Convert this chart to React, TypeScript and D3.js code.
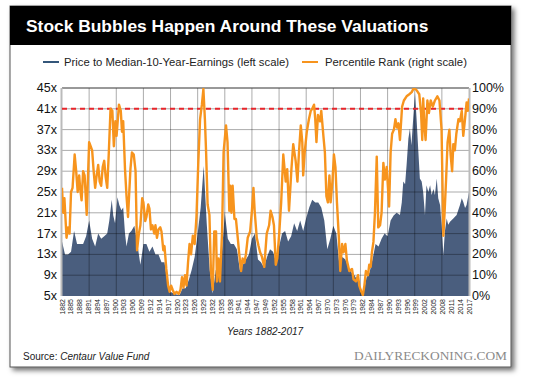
import React from 'react';
import * as d3 from 'd3';

// Price to Median-10-Year-Earnings (left scale): [year, multiple]
const pmePoints: [number, number][] = [
  [1882, 15.5], [1883, 13], [1884, 13], [1885, 13.5], [1886, 17.5], [1887, 15], [1888, 15], [1889, 15],
  [1890, 16.5], [1891, 19.5], [1892, 16], [1893, 14.5], [1894, 17], [1895, 16], [1896, 16.5], [1897, 17],
  [1897.7, 19.5], [1898.5, 23.5], [1899, 20.5], [1899.6, 19], [1900.4, 24], [1901, 22.5], [1901.7, 21.5],
  [1902.3, 22], [1902.9, 17], [1903.4, 14.5], [1904.2, 17], [1905, 17.5], [1906, 18.5], [1907, 15],
  [1908, 11], [1909, 15], [1910, 15], [1911, 13.5], [1912, 14.5], [1913, 13], [1914, 13], [1915, 11.5],
  [1916, 11.5], [1917, 7.5], [1918, 5.8], [1919, 5.5], [1920, 5.3], [1921, 5.2], [1922, 6.5], [1923, 6.5],
  [1924, 8], [1925, 10], [1926, 12.5], [1927, 17], [1928, 22], [1929, 30], [1930, 19], [1931, 10],
  [1932, 5.5], [1933, 10], [1934, 9], [1935, 13], [1936, 21], [1937, 16], [1938, 15], [1939, 15],
  [1940, 14], [1941, 10], [1942, 11], [1943, 12], [1944, 13], [1945, 16], [1946, 17], [1947, 12],
  [1948, 11.5], [1949, 10.5], [1950, 12.5], [1951, 14], [1952, 13.5], [1953, 11.5], [1954, 14.5],
  [1955, 17], [1956, 17.5], [1957, 15.5], [1958, 16.5], [1959, 19], [1960, 17.5], [1961, 19.5],
  [1962, 17.5], [1963, 20], [1964, 22], [1965, 23.5], [1966, 23], [1967, 23], [1968, 22], [1969, 19.5],
  [1970, 14], [1971, 16], [1972, 18.5], [1973, 17], [1974, 11], [1975, 12.5], [1976, 12], [1977, 10.5],
  [1978, 9.5], [1979, 9], [1980, 8], [1981, 6.5], [1982, 5.5], [1983, 8.5], [1984, 9.5], [1985, 12],
  [1986, 15], [1987, 14.5], [1988, 16], [1989, 17], [1990, 16.5], [1991, 19.5], [1992, 20.5], [1993, 21],
  [1994.1, 20.6], [1994.7, 23], [1995.2, 27], [1995.8, 26.5], [1996.3, 30.2], [1996.9, 35.3],
  [1997.4, 37.2], [1997.9, 34], [1998.5, 39.2], [1999.1, 44], [1999.6, 39.2], [2000.2, 32.8],
  [2000.7, 27.6], [2001.3, 27], [2001.8, 25], [2002.4, 20.6], [2002.9, 26.3], [2003.5, 25],
  [2004.1, 26.3], [2004.6, 24.4], [2005.2, 25.6], [2005.7, 24.4], [2006.3, 27.6], [2006.8, 23.8],
  [2007.4, 22.5], [2007.9, 18.7], [2008.5, 12.9], [2009.0, 17.4], [2009.6, 19.9], [2010.1, 18.7],
  [2010.7, 19.3], [2011.8, 19.9], [2012.9, 20.6], [2014.0, 22.5], [2014.6, 23.8], [2015.1, 23.1],
  [2015.7, 21.9], [2016.2, 22.5], [2017.0, 25],
];

// Percentile Rank (right scale): [year, percent]
const pctPoints: [number, number][] = [
  [1882, 52], [1882.4, 40], [1882.8, 47], [1883.5, 28], [1884, 33], [1884.5, 30], [1885, 50], [1885.5, 52],
  [1886.2, 68], [1886.7, 60], [1887.2, 50], [1887.7, 58], [1888, 52], [1888.5, 46], [1889, 60], [1889.5, 58],
  [1890.2, 39], [1891, 74], [1891.5, 72], [1892, 70], [1892.5, 60], [1893, 52], [1893.5, 58], [1894, 63],
  [1894.5, 55], [1895, 53], [1895.5, 62], [1896, 65], [1896.5, 57], [1897, 52], [1897.5, 68], [1898.1, 90],
  [1898.7, 89], [1899.2, 72], [1899.7, 84], [1900.1, 77], [1900.9, 92], [1901.5, 89], [1901.9, 79],
  [1902.3, 84], [1902.9, 61], [1903.4, 48], [1903.9, 38], [1904.7, 61], [1905.2, 69], [1905.8, 68],
  [1906.4, 60], [1906.9, 22], [1907.5, 30], [1908, 34], [1908.6, 47], [1909, 45], [1909.6, 36], [1910, 38],
  [1910.6, 44], [1911, 42], [1911.5, 32], [1912, 34], [1912.6, 30], [1913, 34], [1913.5, 28], [1914, 32],
  [1914.6, 33], [1915, 31], [1915.6, 22], [1916, 24], [1916.6, 13], [1917.2, 5], [1917.7, 2], [1918.2, 5],
  [1918.7, 3], [1919.3, 1], [1920, 2], [1920.7, 1], [1921.3, 3], [1921.8, 9], [1922.3, 4], [1922.8, 10],
  [1923.3, 5], [1923.8, 16], [1924.3, 25], [1924.8, 20], [1925.4, 29], [1926, 25], [1926.6, 38],
  [1927.2, 64], [1927.8, 85], [1928.4, 92], [1928.9, 99.5], [1929.4, 85], [1929.8, 69], [1930.3, 44],
  [1930.9, 39], [1931.4, 12], [1932.0, 3], [1932.5, 31], [1933.1, 31], [1933.4, 7], [1933.9, 18],
  [1934.4, 7], [1935.1, 31], [1935.6, 69], [1936.4, 82], [1936.9, 74], [1937.5, 41], [1937.8, 53],
  [1938.2, 40], [1938.6, 53], [1939.2, 37], [1939.7, 37], [1940.3, 28], [1940.8, 20], [1941.4, 12],
  [1941.9, 18], [1942.5, 16], [1943.0, 20], [1943.6, 28], [1944.4, 31], [1945.0, 41], [1945.5, 52],
  [1945.9, 41], [1946.6, 28], [1947.2, 24], [1947.7, 21], [1948.3, 19], [1949.1, 14], [1949.9, 30],
  [1950.7, 34], [1951.2, 41], [1951.8, 38], [1952.3, 34], [1952.9, 15], [1953.4, 18], [1954.0, 29],
  [1954.7, 45], [1955.4, 68], [1956.2, 55], [1956.7, 61], [1957.3, 41], [1958.1, 61], [1958.7, 73],
  [1959.5, 65], [1960.1, 55], [1960.6, 69], [1961.2, 82], [1961.7, 74], [1962.0, 58], [1962.5, 69],
  [1963.2, 79], [1963.9, 85], [1964.5, 89], [1965.0, 90], [1965.6, 92], [1966.0, 85], [1966.4, 74],
  [1966.9, 87], [1967.6, 84], [1968.0, 89], [1968.7, 77], [1969.2, 69], [1969.7, 48], [1970.2, 45],
  [1970.7, 58], [1971.1, 45], [1971.7, 55], [1972.2, 68], [1972.7, 62], [1973.2, 45], [1973.8, 29],
  [1974.3, 12], [1974.9, 25], [1975.4, 21], [1976.0, 25], [1976.5, 17], [1977.3, 12], [1978.2, 13],
  [1978.7, 8], [1979.5, 7], [1980.2, 10], [1980.6, 5], [1981.3, 2], [1981.8, 0.5], [1982.3, 5],
  [1982.8, 12], [1983.5, 10], [1983.9, 15], [1984.4, 14], [1984.8, 21], [1985.3, 26], [1985.8, 40],
  [1986.4, 67], [1986.9, 33], [1987.5, 34], [1988.0, 40], [1988.6, 64], [1989.1, 56], [1989.7, 62],
  [1990.5, 43], [1991.0, 69], [1991.5, 78], [1992.1, 80], [1992.6, 85], [1993.1, 81], [1993.6, 83],
  [1994.1, 75], [1994.8, 91], [1995.4, 94], [1996.3, 96], [1997.2, 97], [1998.0, 98], [1998.7, 100],
  [1999.6, 99], [2000.5, 97], [2001.1, 88], [2001.5, 75], [2001.8, 95], [2002.2, 82], [2002.6, 75],
  [2003.2, 94], [2003.7, 88], [2004.3, 94], [2005.0, 91], [2005.7, 94], [2006.5, 96], [2007.2, 94],
  [2007.9, 80], [2008.5, 29], [2008.9, 40], [2009.4, 56], [2009.9, 74], [2010.5, 80], [2010.9, 68],
  [2011.4, 60], [2011.8, 73], [2012.3, 70], [2012.8, 78], [2013.5, 85], [2014.0, 84], [2014.6, 89],
  [2015.1, 77], [2015.6, 84], [2016.2, 93], [2016.6, 89], [2017.0, 95],
];

const xLabels = [
  '1882', '1885', '1888', '1891', '1894', '1897', '1900', '1903', '1906', '1909',
  '1912', '1914', '1917', '1920', '1923', '1926', '1929', '1932', '1935', '1938',
  '1941', '1944', '1947', '1949', '1952', '1955', '1958', '1961', '1964', '1967',
  '1970', '1973', '1976', '1979', '1982', '1984', '1987', '1990', '1993', '1996',
  '1999', '2002', '2005', '2008', '2011', '2014', '2017',
];

const leftTicks = [5, 9, 13, 17, 21, 25, 29, 33, 37, 41, 45];
const rightTicks = [0, 10, 20, 30, 40, 50, 60, 70, 80, 90, 100];
const gridYears = [1882, 1891, 1900, 1909, 1918, 1927, 1936, 1945, 1954, 1963, 1972, 1981, 1990, 1999, 2008, 2017];
const thresholdPct = 90;

const SANS = '"Liberation Sans", Arial, Helvetica, sans-serif';

export default function App() {
  const W = 540;
  const H = 378;
  const L = 62, R = 469, T = 88, B = 296;

  const x = d3.scaleLinear().domain([1882, 2017]).range([L, R]);
  const yL = d3.scaleLinear().domain([5, 45]).range([B, T]);
  const yR = d3.scaleLinear().domain([0, 100]).range([B, T]);
  const xl = d3.scalePoint<string>().domain(xLabels).range([L, R]);

  const areaGen = d3.area<[number, number]>()
    .x((d) => x(d[0]))
    .y0(B)
    .y1((d) => yL(d[1]));
  const lineGen = d3.line<[number, number]>()
    .x((d) => x(d[0]))
    .y((d) => yR(d[1]));

  return (
    <svg
      width={W}
      height={H}
      style={{ position: 'absolute', left: 0, top: 0, background: '#fff' }}
      fontFamily={SANS}
    >
      <defs>
        <filter id="shadow" x="-5%" y="-5%" width="115%" height="115%">
          <feDropShadow dx="3" dy="3" stdDeviation="2.5" floodColor="#000" floodOpacity="0.55" />
        </filter>
        <clipPath id="plotclip">
          <rect x={L} y={T} width={R - L} height={B - T} />
        </clipPath>
      </defs>

      {/* panel */}
      <rect x={10} y={6} width={501} height={361} fill="#fff" stroke="#555" strokeWidth={1} filter="url(#shadow)" />
      <rect x={10} y={6} width={501} height={39} fill="#000" />
      <text x={26} y={32} fill="#fff" fontSize={17.4} fontWeight="bold">
        Stock Bubbles Happen Around These Valuations
      </text>

      {/* legend */}
      <line x1={43} x2={59} y1={62} y2={62} stroke="#34567a" strokeWidth={2} />
      <text x={64} y={62} fontSize={11.3} fill="#222" dominantBaseline="central">
        Price to Median-10-Year-Earnings (left scale)
      </text>
      <line x1={302} x2={318} y1={62} y2={62} stroke="#f7941d" strokeWidth={2} />
      <text x={325} y={62} fontSize={11.3} fill="#222" dominantBaseline="central">
        Percentile Rank (right scale)
      </text>

      {/* area */}
      <g clipPath="url(#plotclip)">
        <path d={areaGen(pmePoints) || ''} fill="#4a5e7e" />
      </g>

      {/* grid */}
      <g stroke="#000" strokeOpacity={0.33} strokeWidth={1}>
        {leftTicks.slice(1, -1).map((t) => (
          <line key={'h' + t} x1={L} x2={R} y1={yL(t)} y2={yL(t)} />
        ))}
        {gridYears.slice(1, -1).map((g) => (
          <line key={'v' + g} x1={x(g)} x2={x(g)} y1={T} y2={B} />
        ))}
      </g>

      {/* frame */}
      <line x1={L} x2={R} y1={T} y2={T} stroke="#333" strokeWidth={1} />
      <line x1={L - 0.5} x2={L - 0.5} y1={T} y2={B} stroke="#bbb" strokeWidth={2} />
      <line x1={R + 0.5} x2={R + 0.5} y1={T} y2={B} stroke="#bbb" strokeWidth={2} />

      {/* threshold */}
      <line
        x1={L}
        x2={R}
        y1={yR(thresholdPct)}
        y2={yR(thresholdPct)}
        stroke="#e8262b"
        strokeWidth={2}
        strokeDasharray="5,4"
      />

      {/* percentile line */}
      <g clipPath="url(#plotclip)">
        <path d={lineGen(pctPoints) || ''} fill="none" stroke="#f7941d" strokeWidth={2.4} strokeLinejoin="round" />
      </g>

      {/* left axis */}
      {leftTicks.map((t) => (
        <text key={'l' + t} x={57} y={yL(t)} fontSize={12.5} fill="#111" textAnchor="end" dominantBaseline="central">
          {t}x
        </text>
      ))}
      {/* right axis */}
      {rightTicks.map((t) => (
        <text key={'r' + t} x={472} y={yR(t)} fontSize={12.5} fill="#111" dominantBaseline="central">
          {t}%
        </text>
      ))}

      {/* x labels */}
      {xLabels.map((lab) => (
        <text
          key={lab}
          transform={`translate(${xl(lab)},${299}) rotate(-90)`}
          fontSize={7}
          fill="#222"
          textAnchor="end"
          dominantBaseline="central"
        >
          {lab}
        </text>
      ))}

      <text x={265} y={335} fontSize={10} fontStyle="italic" fill="#222" textAnchor="middle">
        Years 1882-2017
      </text>

      <text x={23} y={360} fontSize={10} fill="#222">
        Source: <tspan fontStyle="italic">Centaur Value Fund</tspan>
      </text>
      <text
        x={507}
        y={360}
        fontSize={13.4}
        fill="#8a8a8a"
        textAnchor="end"
        fontFamily='"Liberation Serif", "Times New Roman", serif'
      >
        DAILYRECKONING.COM
      </text>
    </svg>
  );
}
